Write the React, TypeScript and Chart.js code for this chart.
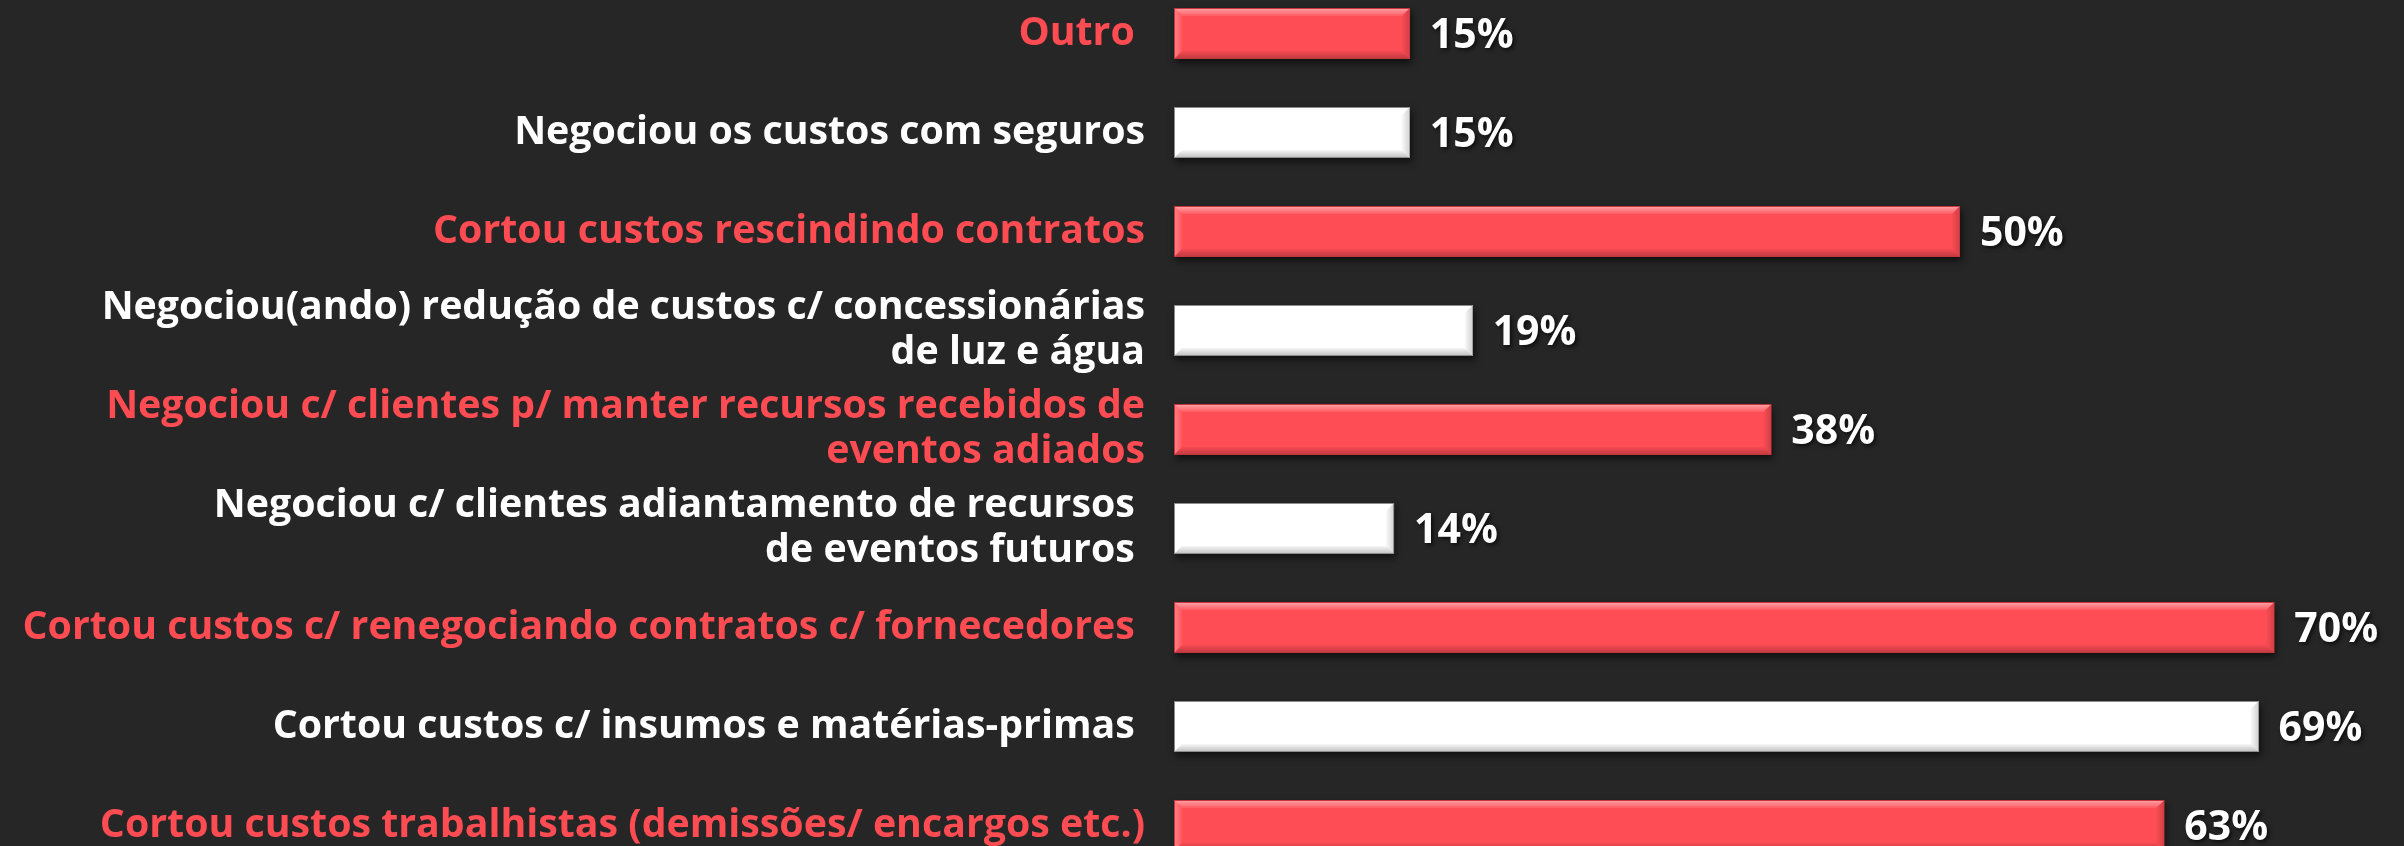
import React, { useEffect, useRef } from "react";
import { Chart, registerables } from "chart.js";

Chart.register(...registerables);

const categories: (string | string[])[] = [
  "Outro ",
  "Negociou os custos com seguros",
  "Cortou custos rescindindo contratos",
  ["Negociou(ando) redução de custos c/ concessionárias", "de luz e água"],
  ["Negociou c/ clientes p/ manter recursos recebidos de", "eventos adiados"],
  ["Negociou c/ clientes adiantamento de recursos ", "de eventos futuros "],
  "Cortou custos c/ renegociando contratos c/ fornecedores ",
  "Cortou custos c/ insumos e matérias-primas ",
  "Cortou custos trabalhistas (demissões/ encargos etc.)",
];

const values: number[] = [15, 15, 50, 19, 38, 14, 70, 69, 63];

const valueLabels: string[] = values.map((v) => `${v}%`);

const RED = "#FF4D55";
const RED_TEXT = "#FF4B52";
const WHITE = "#FFFFFF";
const BG = "#262626";
const FONT = "'Open Sans', 'DejaVu Sans', sans-serif";

const barColors = values.map((_, i) => (i % 2 === 0 ? RED : WHITE));
const borderColors = values.map((_, i) => (i % 2 === 0 ? "#C6373D" : "#8C8C8C"));

function barRect(bar: any) {
  const p = bar.getProps(["x", "y", "base", "height"], true);
  const left = Math.min(p.base, p.x);
  const right = Math.max(p.base, p.x);
  const top = p.y - p.height / 2;
  const bottom = p.y + p.height / 2;
  return { left, right, top, bottom, cy: p.y };
}

const bevelPlugin = {
  id: "bevelBars",
  beforeDatasetsDraw(chart: any) {
    const ctx = chart.ctx as CanvasRenderingContext2D;
    const meta = chart.getDatasetMeta(0);
    ctx.save();
    ctx.shadowColor = "rgba(0,0,0,0.6)";
    ctx.shadowBlur = 7;
    ctx.shadowOffsetX = 2;
    ctx.shadowOffsetY = 4;
    meta.data.forEach((bar: any, i: number) => {
      const r = barRect(bar);
      ctx.fillStyle = barColors[i];
      ctx.fillRect(r.left, r.top, r.right - r.left, r.bottom - r.top);
    });
    ctx.restore();
  },
  afterDatasetsDraw(chart: any) {
    const ctx = chart.ctx as CanvasRenderingContext2D;
    const meta = chart.getDatasetMeta(0);
    const b = 8;
    meta.data.forEach((bar: any, i: number) => {
      const r = barRect(bar);
      const { left, right, top, bottom } = r;
      ctx.save();
      let g = ctx.createLinearGradient(0, top, 0, top + b);
      g.addColorStop(0, "rgba(255,255,255,0.5)");
      g.addColorStop(1, "rgba(255,255,255,0.08)");
      ctx.fillStyle = g;
      ctx.beginPath();
      ctx.moveTo(left + 1, top + 1);
      ctx.lineTo(right - 1, top + 1);
      ctx.lineTo(right - b, top + b);
      ctx.lineTo(left + b, top + b);
      ctx.closePath();
      ctx.fill();
      g = ctx.createLinearGradient(left, 0, left + b, 0);
      g.addColorStop(0, "rgba(255,255,255,0.3)");
      g.addColorStop(1, "rgba(255,255,255,0.05)");
      ctx.fillStyle = g;
      ctx.beginPath();
      ctx.moveTo(left + 1, top + 1);
      ctx.lineTo(left + b, top + b);
      ctx.lineTo(left + b, bottom - b);
      ctx.lineTo(left + 1, bottom - 1);
      ctx.closePath();
      ctx.fill();
      g = ctx.createLinearGradient(0, bottom - b, 0, bottom);
      g.addColorStop(0, "rgba(0,0,0,0.03)");
      g.addColorStop(1, "rgba(0,0,0,0.26)");
      ctx.fillStyle = g;
      ctx.beginPath();
      ctx.moveTo(left + 1, bottom - 1);
      ctx.lineTo(right - 1, bottom - 1);
      ctx.lineTo(right - b, bottom - b);
      ctx.lineTo(left + b, bottom - b);
      ctx.closePath();
      ctx.fill();
      g = ctx.createLinearGradient(right - b, 0, right, 0);
      g.addColorStop(0, "rgba(0,0,0,0.02)");
      g.addColorStop(1, "rgba(0,0,0,0.18)");
      ctx.fillStyle = g;
      ctx.beginPath();
      ctx.moveTo(right - 1, top + 1);
      ctx.lineTo(right - b, top + b);
      ctx.lineTo(right - b, bottom - b);
      ctx.lineTo(right - 1, bottom - 1);
      ctx.closePath();
      ctx.fill();
      ctx.restore();

      ctx.save();
      ctx.font = `bold 41px ${FONT}`;
      ctx.fillStyle = "#FFFFFF";
      ctx.textAlign = "left";
      ctx.textBaseline = "middle";
      ctx.shadowColor = "rgba(0,0,0,0.7)";
      ctx.shadowBlur = 4;
      ctx.shadowOffsetX = 2;
      ctx.shadowOffsetY = 2;
      ctx.fillText(valueLabels[i], right + 20, r.cy + 3);
      ctx.restore();
    });
  },
};

export default function App() {
  const canvasRef = useRef<HTMLCanvasElement | null>(null);

  useEffect(() => {
    document.body.style.margin = "0";
    document.body.style.background = BG;
    const canvas = canvasRef.current;
    if (!canvas) return;
    const chart = new Chart(canvas, {
      type: "bar",
      data: {
        labels: categories,
        datasets: [
          {
            data: values,
            backgroundColor: barColors,
            borderColor: borderColors,
            borderWidth: 1,
            borderSkipped: false,
            barPercentage: 0.515,
            categoryPercentage: 1,
          },
        ],
      },
      options: {
        indexAxis: "y",
        animation: false,
        responsive: true,
        maintainAspectRatio: false,
        layout: { padding: 0 },
        plugins: {
          legend: { display: false },
          tooltip: { enabled: false },
        },
        scales: {
          x: {
            display: false,
            min: 0,
            max: 78.25,
          },
          y: {
            grid: { display: false },
            border: { display: false },
            afterFit: (scale: any) => {
              scale.width = 1174;
              scale.paddingTop = 0;
              scale.paddingBottom = 0;
            },
            ticks: {
              padding: 21,
              autoSkip: false,
              color: (c: any) => (c.index % 2 === 0 ? RED_TEXT : "#FFFFFF"),
              font: { family: FONT, size: 39.3, weight: "bold", lineHeight: 1.13 },
            },
          },
        },
      },
      plugins: [bevelPlugin],
    });
    return () => chart.destroy();
  }, []);

  return (
    <div
      style={{
        position: "fixed",
        left: 0,
        top: 0,
        width: 2404,
        height: 846,
        overflow: "hidden",
        background: BG,
      }}
    >
      <div style={{ position: "absolute", left: 0, top: -16, width: 2404, height: 891 }}>
        <canvas ref={canvasRef} />
      </div>
    </div>
  );
}
